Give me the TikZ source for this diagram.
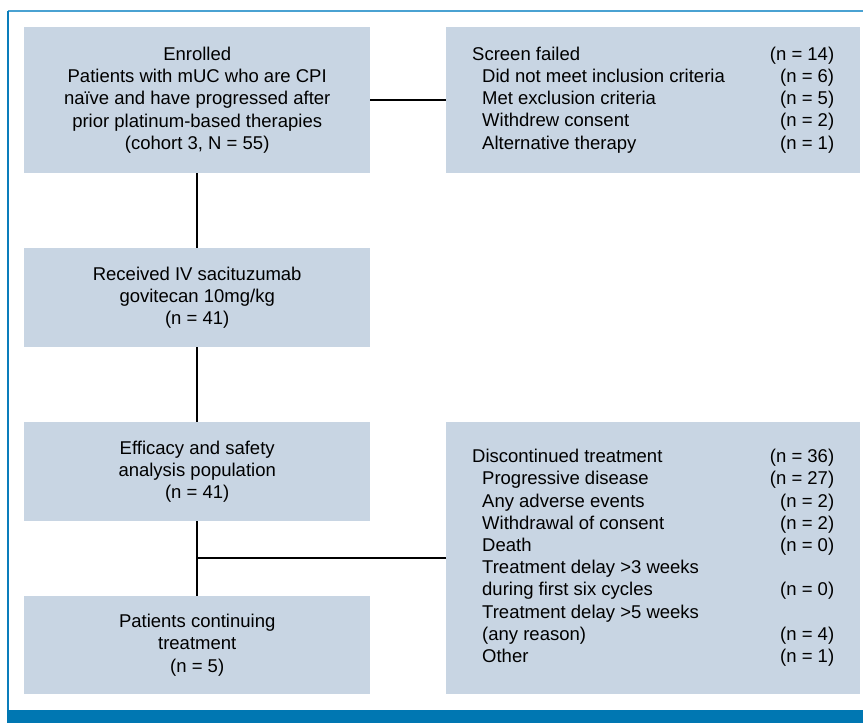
\documentclass[tikz,border=0pt]{standalone}
\usepackage{fontspec}
\setmainfont{Liberation Sans}
\usepackage{tikz}
\usetikzlibrary{positioning}
\definecolor{cfbox}{HTML}{C8D5E3}
\definecolor{cfframe}{HTML}{0A7DBB}
\definecolor{cftop}{HTML}{4AA2D2}
\definecolor{cfbar}{HTML}{0077B2}
\newcommand{\reasonrow}[2]{\hspace{10pt}#1 & #2}

\begin{document}
\begin{tikzpicture}[x=1pt, y=-1pt, font=\fontsize{18.5}{22.2}\selectfont,
  flowbox/.style={fill=cfbox, inner sep=0pt, anchor=north west, minimum width=346pt, align=center},
  sidebox/.style={fill=cfbox, inner sep=0pt, anchor=north west, minimum width=414pt},
  link/.style={line width=2pt, black}]
  \useasboundingbox (0,0) rectangle (863,723);
  % frame
  \draw[cftop, line width=1.5pt] (8,11) -- (863,11);
  \draw[cfframe, line width=1.5pt] (8,11) -- (8,710);
  \fill[cfbar] (7,710) rectangle (863,723);
  % main column
  \node[flowbox, minimum height=146pt] (enrolled) at (24,27)
    {Enrolled\\Patients with mUC who are CPI\\naïve and have progressed after\\prior platinum-based therapies\\(cohort 3, N = 55)};
  \node[flowbox, minimum height=99pt] (received) at (24,248)
    {Received IV sacituzumab\\govitecan 10mg/kg\\(n = 41)};
  \node[flowbox, minimum height=99pt] (efficacy) at (24,422)
    {Efficacy and safety\\analysis population\\(n = 41)};
  \node[flowbox, minimum height=98pt] (continuing) at (24,596)
    {Patients continuing\\treatment\\(n = 5)};
  % side boxes
  \node[sidebox, minimum height=146pt] (screenfail) at (446,27)
    {\begin{tabular*}{362pt}{@{}l@{\extracolsep{\fill}}r@{}}
      Screen failed & (n = 14)\\
      \reasonrow{Did not meet inclusion criteria}{(n = 6)}\\
      \reasonrow{Met exclusion criteria}{(n = 5)}\\
      \reasonrow{Withdrew consent}{(n = 2)}\\
      \reasonrow{Alternative therapy}{(n = 1)}
    \end{tabular*}};
  \node[sidebox, minimum height=272pt] (discont) at (446,422)
    {\begin{tabular*}{362pt}{@{}l@{\extracolsep{\fill}}r@{}}
      Discontinued treatment & (n = 36)\\
      \reasonrow{Progressive disease}{(n = 27)}\\
      \reasonrow{Any adverse events}{(n = 2)}\\
      \reasonrow{Withdrawal of consent}{(n = 2)}\\
      \reasonrow{Death}{(n = 0)}\\
      \reasonrow{Treatment delay >3 weeks}{}\\
      \reasonrow{during first six cycles}{(n = 0)}\\
      \reasonrow{Treatment delay >5 weeks}{}\\
      \reasonrow{(any reason)}{(n = 4)}\\
      \reasonrow{Other}{(n = 1)}
    \end{tabular*}};
  % connectors
  \draw[link] (enrolled.east) -- (screenfail.west);
  \draw[link] (enrolled.south) -- (received.north);
  \draw[link] (received.south) -- (efficacy.north);
  \draw[link] (efficacy.south) -- (continuing.north);
  \draw[link] (discont.west) -- (discont.west -| efficacy.south);
\end{tikzpicture}
\end{document}
